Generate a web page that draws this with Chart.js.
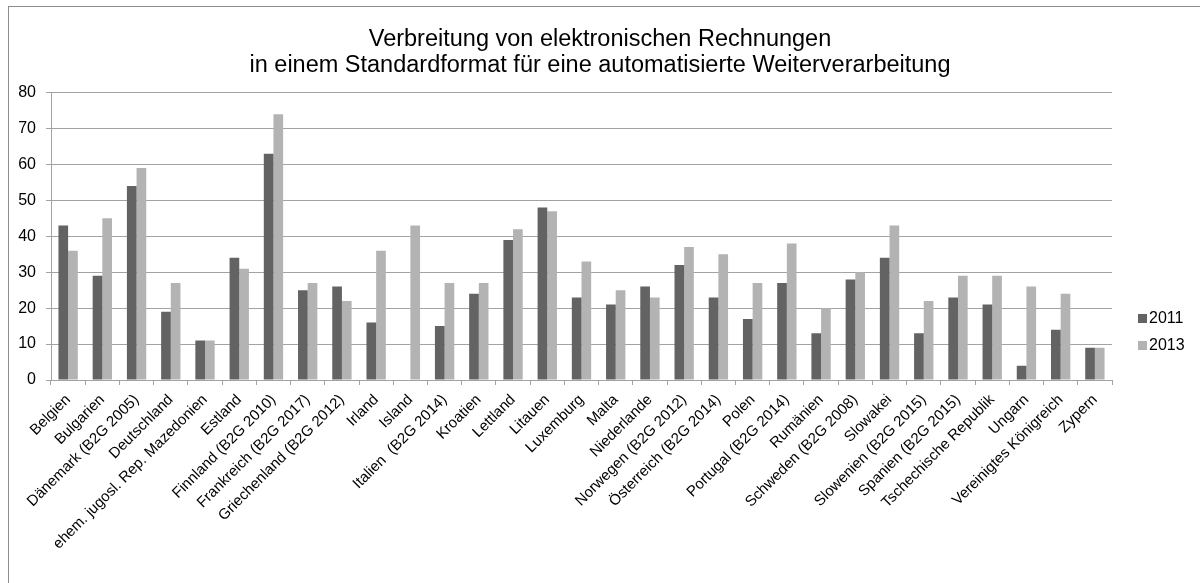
<!DOCTYPE html>
<html>
<head>
<meta charset="utf-8">
<script src="https://cdn.jsdelivr.net/npm/chart.js@4"></script>
<style>
  html, body { margin: 0; padding: 0; background: #fff; }
  #wrap { width: 1200px; height: 583px; }
</style>
</head>
<body>
<div id="wrap"><canvas id="eInvoiceChart" width="1200" height="583"></canvas></div>
<script>
// Verbreitung von elektronischen Rechnungen, Anteil in %
const countries = ['Belgien', 'Bulgarien', 'Dänemark (B2G 2005)', 'Deutschland', 'ehem. jugosl. Rep. Mazedonien',
    'Estland', 'Finnland (B2G 2010)', 'Frankreich (B2G 2017)', 'Griechenland (B2G 2012)', 'Irland', 'Island',
    'Italien  (B2G 2014)', 'Kroatien', 'Lettland', 'Litauen', 'Luxemburg', 'Malta', 'Niederlande',
    'Norwegen (B2G 2012)', 'Österreich (B2G 2014)', 'Polen', 'Portugal (B2G 2014)', 'Rumänien',
    'Schweden (B2G 2008)', 'Slowakei', 'Slowenien (B2G 2015)', 'Spanien (B2G 2015)', 'Tschechische Republik',
    'Ungarn', 'Vereinigtes Königreich', 'Zypern'];
const values2011 = [43, 29, 54, 19, 11, 34, 63, 25, 26, 16, null, 15, 24, 39, 48, 23, 21, 26, 32, 23, 17, 27, 13, 28, 34, 13, 23, 21, 4, 14, 9];
const values2013 = [36, 45, 59, 27, 11, 31, 74, 27, 22, 36, 43, 27, 27, 42, 47, 33, 25, 23, 37, 35, 27, 38, 20, 30, 43, 22, 29, 29, 26, 24, 9];
const yTicks = [0, 10, 20, 30, 40, 50, 60, 70, 80];

const fontFamily = '"Liberation Sans", Arial, sans-serif';
const gridColor = '#a3a3a3';

// Rahmen + Legende rechts (wie im Excel-Diagramm)
const frameAndLegend = {
    id: 'frameAndLegend',
    beforeDraw(chart) {
        const ctx = chart.ctx;
        ctx.save();
        ctx.strokeStyle = '#8c8c8c';
        ctx.lineWidth = 1;
        ctx.strokeRect(8.5, 6.5, chart.width + 20, chart.height + 20);
        ctx.restore();
    },
    afterDraw(chart) {
        const ctx = chart.ctx;
        const x = chart.chartArea.right + 26;
        let y = 318;
        ctx.save();
        ctx.font = '16px ' + fontFamily;
        ctx.textBaseline = 'middle';
        ctx.textAlign = 'left';
        chart.data.datasets.forEach(ds => {
            ctx.fillStyle = ds.backgroundColor;
            ctx.fillRect(x, y - 4, 9, 9);
            ctx.fillStyle = '#000';
            ctx.fillText(ds.label, x + 11, y + 1);
            y += 27;
        });
        ctx.restore();
    }
};

new Chart(document.getElementById('eInvoiceChart'), {
    type: 'bar',
    data: {
        labels: countries,
        datasets: [{
            label: '2011',
            data: values2011,
            backgroundColor: '#636363',
            borderWidth: 0
        }, {
            label: '2013',
            data: values2013,
            backgroundColor: '#b3b3b3',
            borderWidth: 0
        }]
    },
    options: {
        responsive: false,
        animation: false,
        devicePixelRatio: 1,
        categoryPercentage: 0.565,
        barPercentage: 1.0,
        layout: { padding: 0 },
        plugins: {
            legend: { display: false },
            tooltip: { enabled: false },
            title: {
                display: true,
                text: ['Verbreitung von elektronischen Rechnungen',
                       'in einem Standardformat für eine automatisierte Weiterverarbeitung'],
                color: '#000',
                font: { family: fontFamily, size: 23.5, weight: 'normal', lineHeight: 1.12 },
                padding: { top: 26, bottom: 14 }
            }
        },
        scales: {
            x: {
                grid: { display: true, drawOnChartArea: false, offset: true, color: gridColor, tickLength: 5 },
                border: { color: gridColor },
                ticks: {
                    autoSkip: false,
                    minRotation: 45,
                    maxRotation: 45,
                    padding: 6,
                    color: '#000',
                    font: { family: fontFamily, size: 15 }
                },
                afterFit(scale) { scale.height = 203; }
            },
            y: {
                min: 0,
                max: 80,
                afterBuildTicks(scale) { scale.ticks = yTicks.map(v => ({ value: v })); },
                grid: { color: gridColor, tickLength: 5 },
                border: { color: gridColor },
                ticks: {
                    padding: 10,
                    color: '#000',
                    font: { family: fontFamily, size: 16 }
                },
                afterFit(scale) { scale.width = 51; }
            },
            legendSpace: {
                type: 'linear',
                position: 'right',
                grid: { display: false },
                border: { display: false },
                ticks: { display: false },
                afterFit(scale) { scale.width = 88; }
            }
        }
    },
    plugins: [frameAndLegend]
});
</script>
</body>
</html>
